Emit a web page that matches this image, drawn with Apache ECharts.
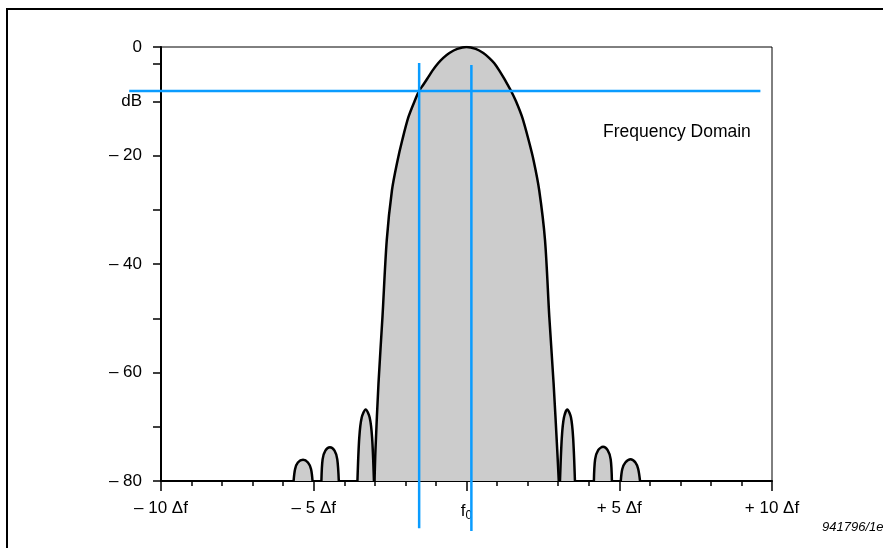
<!DOCTYPE html>
<html>
<head>
<meta charset="utf-8">
<script src="https://cdn.jsdelivr.net/npm/echarts@6/dist/echarts.min.js"></script>
<style>
html,body{margin:0;padding:0;background:#fff;}
#chart{width:883px;height:548px;}
</style>
</head>
<body>
<div id="chart"></div>
<script>
// ---- data (x in Δf units, y in dB) ----
var mainLobe = [[-3.01,-80],[-2.98,-74.3],[-2.88,-61.9],[-2.75,-49.7],[-2.61,-35.6],[-2.44,-26.4],[-2.26,-21],[-2.10,-17.1],[-1.90,-12.9],[-1.70,-10.0],[-1.55,-8.1],[-1.42,-7.0],[-1.28,-5.8],[-1.12,-4.4],[-0.93,-3.0],[-0.76,-2.0],[-0.56,-1.1],[-0.30,-0.35],[0,0],[0.30,-0.35],[0.55,-1.1],[0.74,-2.0],[0.91,-3.0],[1.08,-4.4],[1.23,-5.8],[1.35,-7.0],[1.46,-8.1],[1.62,-10.0],[1.82,-12.9],[2.03,-17.1],[2.20,-21],[2.38,-26.4],[2.57,-35.6],[2.71,-49.7],[2.85,-61.9],[2.97,-74.3],[3.02,-80]];
var sideLobeL1 = [[-3.57,-80],[-3.51,-72],[-3.43,-68.3],[-3.30,-66.8],[-3.17,-68.3],[-3.09,-72],[-3.03,-80]];
var sideLobeR1 = [[3.06,-80],[3.12,-72],[3.19,-68.3],[3.30,-66.8],[3.42,-68.3],[3.49,-72],[3.55,-80]];
var sideLobeL2 = [[-4.75,-80],[-4.71,-76],[-4.62,-74.4],[-4.47,-73.8],[-4.32,-74.4],[-4.23,-76],[-4.18,-80]];
var sideLobeR2 = [[4.17,-80],[4.21,-76],[4.31,-74.3],[4.47,-73.7],[4.62,-74.3],[4.72,-76],[4.76,-80]];
var sideLobeL3 = [[-5.66,-80],[-5.61,-77.8],[-5.52,-76.6],[-5.35,-76.1],[-5.19,-76.6],[-5.09,-77.8],[-5.04,-80]];
var sideLobeR3 = [[5.05,-80],[5.10,-77.8],[5.20,-76.6],[5.37,-76.0],[5.53,-76.6],[5.62,-77.8],[5.68,-80]];
var markerH = [[-11.04,-8.1],[9.62,-8.1]];
var markerV1 = [[-1.55,-2.95],[-1.55,-88.7]];
var markerV2 = [[0.16,-3.3],[0.16,-89.2]];
var yTickValues = [0,-3,-10,-20,-30,-40,-50,-60,-70,-80];
var yLabelValues = [0,-10,-20,-40,-60,-80];
var yLabelTexts = {'0':'0','-10':'dB','-20':'– 20','-40':'– 40','-60':'– 60','-80':'– 80'};
var xLabelTexts = {'-10':'– 10 Δf','-5':'– 5 Δf','0':'{f|f}{s|0}','5':'+ 5 Δf','10':'+ 10 Δf'};
var annotation = 'Frequency Domain';
var figId = '941796/1e';

var FONT = '"Liberation Sans", Arial, Helvetica, sans-serif';
var chart = echarts.init(document.getElementById('chart'), null, {renderer:'canvas'});

function lobe(data){
  return {
    type:'line', data:data, symbol:'none', smooth:0.3, silent:true,
    lineStyle:{color:'#000', width:2.5},
    areaStyle:{color:'#cccccc', opacity:1, origin:'start'},
    z:2
  };
}

chart.setOption({
  animation:false,
  backgroundColor:'#fff',
  grid:{left:161, right:111, top:47, bottom:67, show:true, borderColor:'#000', borderWidth:1, backgroundColor:'transparent'},
  xAxis:{
    type:'value', min:-10, max:10, interval:5,
    axisLine:{show:true, onZero:false, lineStyle:{color:'#000', width:2}},
    axisTick:{show:true, length:10, lineStyle:{color:'#000', width:1.5}},
    minorTick:{show:true, splitNumber:5, length:5, lineStyle:{color:'#000', width:1.5}},
    splitLine:{show:false},
    axisLabel:{
      margin:19, color:'#000', fontFamily:FONT, fontSize:17,
      formatter:function(v){ return xLabelTexts[String(v)] || ''; },
      rich:{
        f:{fontFamily:FONT, fontSize:17, color:'#000'},
        s:{fontFamily:FONT, fontSize:12, color:'#000', padding:[10,0,0,0]}
      }
    }
  },
  yAxis:{
    type:'value', min:-80, max:0, interval:10,
    axisLine:{show:true, onZero:false, lineStyle:{color:'#000', width:2}},
    axisTick:{show:true, length:8, customValues:yTickValues, lineStyle:{color:'#000', width:1.5}},
    splitLine:{show:false},
    axisLabel:{
      margin:19, color:'#000', fontFamily:FONT, fontSize:17,
      customValues:yLabelValues,
      formatter:function(v){ var t = yLabelTexts[String(v)]; return t === undefined ? '' : t; }
    }
  },
  series:[
    lobe(mainLobe), lobe(sideLobeL1), lobe(sideLobeR1), lobe(sideLobeL2), lobe(sideLobeR2), lobe(sideLobeL3), lobe(sideLobeR3)
  ]
});

function markerLine(pts){
  var a = chart.convertToPixel({gridIndex:0}, pts[0]);
  var b = chart.convertToPixel({gridIndex:0}, pts[1]);
  return {type:'line', silent:true, z:50, shape:{x1:a[0], y1:a[1], x2:b[0], y2:b[1]},
          style:{stroke:'#0a9cff', lineWidth:2.5}};
}

chart.setOption({
  graphic:[
    {type:'polyline', silent:true, shape:{points:[[7,548],[7,9],[883,9]]}, style:{stroke:'#000', lineWidth:2, fill:null}},
    {type:'text', silent:true, left:603, top:123, style:{text:annotation, font:'17.5px '+FONT, fill:'#000'}},
    {type:'text', silent:true, left:822, top:521, style:{text:figId, font:'italic 13px '+FONT, fill:'#000'}},
    markerLine(markerH), markerLine(markerV1), markerLine(markerV2)
  ]
});
</script>
</body>
</html>
